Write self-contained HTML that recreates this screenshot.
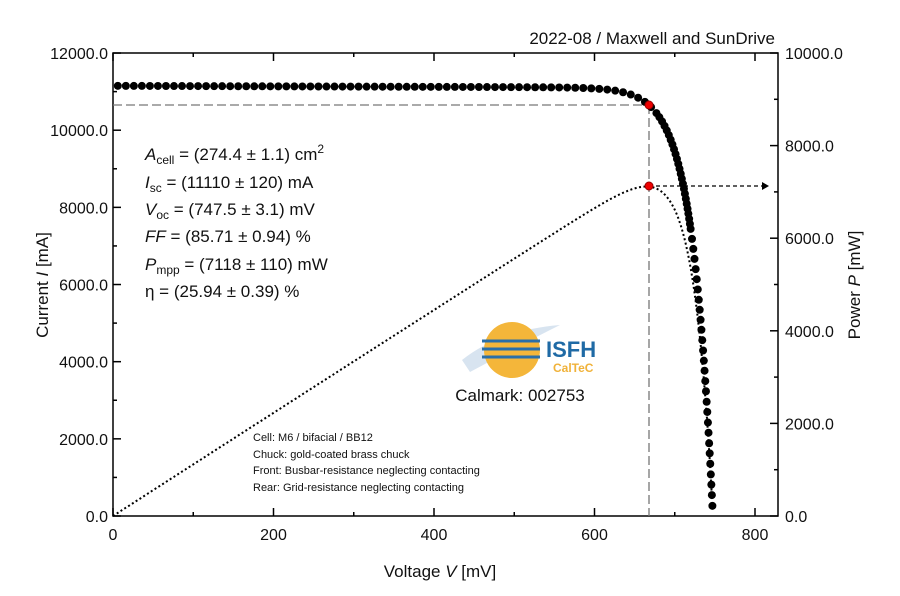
<!DOCTYPE html>
<html><head><meta charset="utf-8"><style>
body{margin:0;background:#fff}
svg text{font-family:"Liberation Sans",sans-serif;fill:#111}
</style></head><body>
<svg id="s" width="900" height="591" viewBox="0 0 900 591" xmlns="http://www.w3.org/2000/svg">
<rect x="0" y="0" width="900" height="591" fill="#fff"/>
<text x="775" y="44" font-size="17" text-anchor="end">2022-08 / Maxwell and SunDrive</text>
<rect x="113" y="53" width="665" height="463" fill="none" stroke="#000" stroke-width="1.5"/>
<g id="ticks" stroke="#000" stroke-width="1.5"></g>
<g font-size="16" id="lbl"></g>
<text x="440" y="577" font-size="17" text-anchor="middle">Voltage <tspan font-style="italic">V</tspan> [mV]</text>
<text transform="translate(48,285) rotate(-90)" font-size="17" text-anchor="middle">Current <tspan font-style="italic">I</tspan> [mA]</text>
<text transform="translate(860,285) rotate(-90)" font-size="17" text-anchor="middle">Power <tspan font-style="italic">P</tspan> [mW]</text>
<g font-size="17">
<text x="145" y="160"><tspan font-style="italic">A</tspan><tspan font-size="12" dy="4">cell</tspan><tspan dy="-4"> = (274.4 ± 1.1) cm</tspan><tspan font-size="12" dy="-7">2</tspan></text>
<text x="145" y="188"><tspan font-style="italic">I</tspan><tspan font-size="12" dy="4">sc</tspan><tspan dy="-4"> = (11110 ± 120) mA</tspan></text>
<text x="145" y="215"><tspan font-style="italic">V</tspan><tspan font-size="12" dy="4">oc</tspan><tspan dy="-4"> = (747.5 ± 3.1) mV</tspan></text>
<text x="145" y="242"><tspan font-style="italic">FF</tspan> = (85.71 ± 0.94) %</text>
<text x="145" y="270"><tspan font-style="italic">P</tspan><tspan font-size="12" dy="4">mpp</tspan><tspan dy="-4"> = (7118 ± 110) mW</tspan></text>
<text x="145" y="297">η = (25.94 ± 0.39) %</text>
</g>
<g font-size="11">
<text x="253" y="441">Cell: M6 / bifacial / BB12</text>
<text x="253" y="458">Chuck: gold-coated brass chuck</text>
<text x="253" y="474">Front: Busbar-resistance neglecting contacting</text>
<text x="253" y="491">Rear: Grid-resistance neglecting contacting</text>
</g>
<path d="M462,360 Q500,330 560,325 Q520,345 470,372 Z" fill="#c8d8ea" opacity="0.7"/>
<circle cx="512" cy="350" r="28" fill="#f4b63a"/>
<g stroke="#2a6fa8" stroke-width="3"><line x1="482" y1="341" x2="540" y2="341"/><line x1="482" y1="349" x2="540" y2="349"/><line x1="482" y1="357" x2="540" y2="357"/></g>
<text x="546" y="357" font-size="22" font-weight="bold" style="fill:#1f6aa5">ISFH</text>
<text x="553" y="372" font-size="12" font-weight="bold" style="fill:#f0b23a">CalTeC</text>
<text x="520" y="401" font-size="17" text-anchor="middle">Calmark: 002753</text>
<g stroke="#777" stroke-width="1.3" stroke-dasharray="9,4" fill="none">
<line x1="113" y1="105" x2="649" y2="105"/><line x1="649" y1="105" x2="649" y2="516"/></g>
<path id="pw" fill="none" stroke="#000" stroke-width="2" stroke-dasharray="2,2.5"/>
<g id="dots" fill="#000"></g>
<line x1="649" y1="186" x2="762" y2="186" stroke="#000" stroke-width="1.2" stroke-dasharray="4,3"/>
<path d="M762,182 L769,186 L762,190 Z" fill="#000"/>
<circle cx="649" cy="105" r="4" fill="#e00" stroke="#900"/>
<circle cx="649" cy="186" r="4" fill="#e00" stroke="#900"/>
</svg>
<script>
var NS="http://www.w3.org/2000/svg";
function el(p,t,a,txt){var e=document.createElementNS(NS,t);for(var k in a)e.setAttribute(k,a[k]);if(txt!=null)e.textContent=txt;document.getElementById(p).appendChild(e);}
function X(v){return 113+v*0.8025}
function YI(i){return 516-i*0.03858}
function YP(p){return 516-p*0.0463}
for(var v=0;v<=800;v+=100){var x=X(v),L=v%200==0?8:4;el('ticks','line',{x1:x,y1:516,x2:x,y2:516-L});el('ticks','line',{x1:x,y1:53,x2:x,y2:53+L});if(v%200==0)el('lbl','text',{x:x,y:540,'text-anchor':'middle'},v);}
for(var i=0;i<=12000;i+=1000){var y=YI(i),L=i%2000==0?8:4;el('ticks','line',{x1:113,y1:y,x2:113+L,y2:y});if(i%2000==0)el('lbl','text',{x:108,y:y+6,'text-anchor':'end'},i.toFixed(1));}
for(var p=0;p<=10000;p+=1000){var y=YP(p),L=p%2000==0?8:4;el('ticks','line',{x1:778,y1:y,x2:778-L,y2:y});if(p%2000==0)el('lbl','text',{x:785,y:y+6},p.toFixed(1));}
var Isc=11110,Voc=747.5,a=25,n=1-Math.exp(-Voc/a);
function I(v){return Isc*(1-Math.exp((v-Voc)/a))/n+40*(v<600?(1-v/600):0)}
var px=X(6),py=YI(I(6)),acc=0,sp=8;
el('dots','circle',{cx:px,cy:py,r:4});
for(var v=6;v<=747;v+=0.05){var x=X(v),y=YI(I(v));acc+=Math.hypot(x-px,y-py);px=x;py=y;
 var s=sp; if(v>680&&v<720)s=5; if(v>=720)s=10;
 if(acc>=s){acc=0;el('dots','circle',{cx:x,cy:y,r:4});}}
var d="";for(var v=0;v<=Voc;v+=2){var P=v*I(v)/1000;d+=(v?"L":"M")+X(v).toFixed(1)+","+YP(P).toFixed(1);}
document.getElementById('pw').setAttribute('d',d);
</script>
</body></html>
